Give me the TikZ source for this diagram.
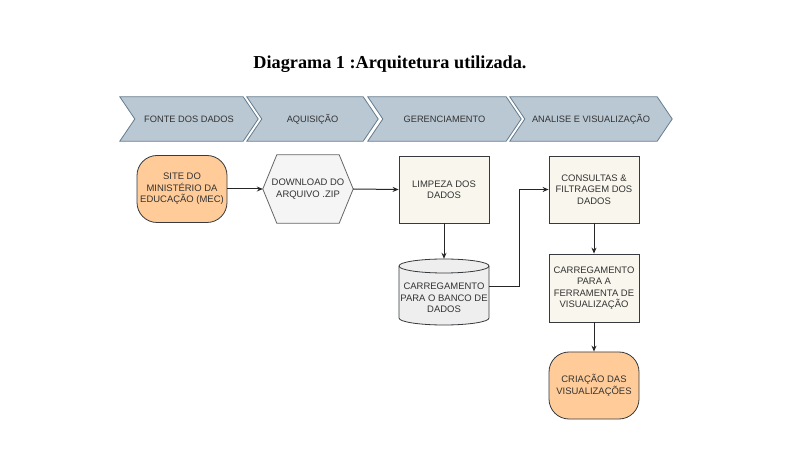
\documentclass[tikz,border=0pt]{standalone}
\usepackage{fontspec}
\setmainfont{Liberation Sans}
\newfontfamily\titlefont{Liberation Serif}
\usetikzlibrary{arrows.meta,backgrounds}
\definecolor{chevfill}{HTML}{BAC8D3}
\definecolor{chevline}{HTML}{23445D}
\definecolor{orangefill}{HTML}{FFCC99}
\definecolor{darkline}{HTML}{36393D}
\definecolor{grayfill}{HTML}{F5F5F5}
\definecolor{grayline}{HTML}{666666}
\definecolor{cylfill}{HTML}{EEEEEE}
\definecolor{boxfill}{HTML}{F9F7ED}
\definecolor{txt}{HTML}{333333}
\begin{document}
\begin{tikzpicture}[x=1bp,y=-1bp,
  chevlabel/.style={draw=none, text=txt, font=\fontsize{9.3}{11}\selectfont, minimum height=44bp, text height=6.7bp, text depth=0bp, inner sep=0pt},
  chevshape/.style={fill=chevfill, draw=chevline!70, line width=0.8bp},
  nodetext/.style={text=txt, font=\fontsize{9.5}{11.5}\selectfont, align=center, inner sep=0pt, minimum width=90bp},
  term/.style={nodetext, draw=darkline, fill=orangefill, line width=0.8bp, rounded corners=20bp, minimum height=67bp},
  procbox/.style={nodetext, draw=darkline, fill=boxfill, line width=0.8bp, minimum height=67bp},
  shapebox/.style={nodetext, draw=none, minimum height=68bp},
  conn/.style={draw=black!85, line width=1bp, -{Stealth[length=6bp,width=5bp]}}
]
\begin{scope}[on background layer]
  \fill[white] (0,0) rectangle (787,460);
\end{scope}
\useasboundingbox (0,0) rectangle (787,460);

% title
\node[anchor=base, inner sep=0pt, font=\titlefont\bfseries\fontsize{18.3}{20}\selectfont] (title) at (390,69) {Diagrama 1 :Arquitetura utilizada.};

% chevrons
\node[chevlabel, minimum width=138bp] (ch1) at (189,119) {FONTE DOS DADOS};
\node[chevlabel, minimum width=131bp] (ch2) at (312.5,119) {AQUISIÇÃO};
\node[chevlabel, minimum width=153bp] (ch3) at (444.5,119) {GERENCIAMENTO};
\node[chevlabel, minimum width=162bp] (ch4) at (591,119) {ANALISE E VISUALIZAÇÃO};
\begin{scope}[on background layer]
  \foreach \c in {ch1,ch2,ch3,ch4}{
    \draw[chevshape] (\c.north west) -- ([xshift=-15bp]\c.north east) -- (\c.east)
      -- ([xshift=-15bp]\c.south east) -- (\c.south west) -- ([xshift=15bp]\c.west) -- cycle;
  }
\end{scope}

% nodes
\node[term] (mec) at (182,189) {SITE DO\\MINISTÉRIO DA\\EDUCAÇÃO (MEC)};
\node[shapebox] (zip) at (308,189) {DOWNLOAD DO\\ARQUIVO .ZIP};
\node[procbox] (limp) at (444,189.5) {LIMPEZA DOS\\DADOS};
\node[shapebox, minimum height=66bp] (db) at (444,292) {};
\node[nodetext] (dbtext) at (444,298) {CARREGAMENTO\\PARA O BANCO DE\\DADOS};
\node[procbox] (cons) at (594,189.5) {CONSULTAS \&\\FILTRAGEM DOS\\DADOS};
\node[procbox, minimum height=68bp] (ferr) at (594,288) {CARREGAMENTO\\PARA A\\FERRAMENTA DE\\VISUALIZAÇÃO};
\node[term] (cria) at (594,385.5) {CRIAÇÃO DAS\\VISUALIZAÇÕES};

\begin{scope}[on background layer]
  % hexagon
  \draw[fill=grayfill, draw=grayline, line width=0.8bp]
    (zip.west) -- ([xshift=14bp]zip.north west) -- ([xshift=-14bp]zip.north east)
    -- (zip.east) -- ([xshift=-14bp]zip.south east) -- ([xshift=14bp]zip.south west) -- cycle;
  % cylinder
  \draw[fill=cylfill, draw=darkline, line width=0.8bp]
    (399,266) -- (399,318) arc[start angle=180, end angle=0, x radius=45, y radius=7]
    -- (489,266) arc[start angle=0, end angle=-180, x radius=45, y radius=7] -- cycle;
  \draw[darkline, line width=0.8bp] (399,266) arc[start angle=180, end angle=0, x radius=45, y radius=7];
\end{scope}

% connectors
\draw[conn] (mec.east) -- (zip.west);
\draw[conn] (zip.east) -- (limp.west);
\draw[conn] (limp.south) -- (db.north);
\draw[conn] ([yshift=5bp]db.east) -- ++(30,0) |- (cons.west);
\draw[conn] (cons.south) -- (ferr.north);
\draw[conn] (ferr.south) -- (cria.north);
\end{tikzpicture}
\end{document}
